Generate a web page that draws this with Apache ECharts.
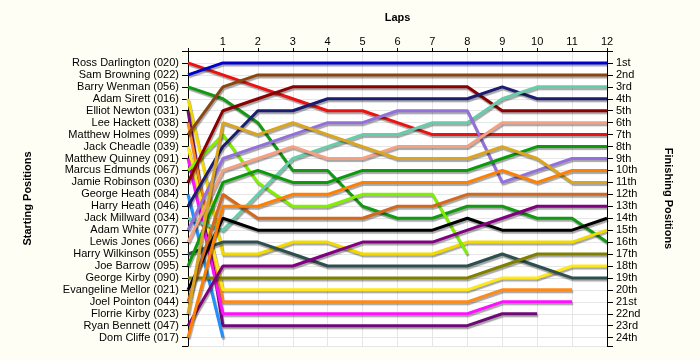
<!DOCTYPE html>
<html><head><meta charset="utf-8">
<script src="https://cdn.jsdelivr.net/npm/echarts@6/dist/echarts.min.js"></script>
<style>html,body{margin:0;padding:0;background:#fffef4}#c{width:700px;height:360px}</style>
</head><body><div id="c"></div>
<script>
// Starting grid (position 1..24)
var startNames = ["Ross Darlington (020)","Sam Browning (022)","Barry Wenman (056)","Adam Sirett (016)","Elliot Newton (031)","Lee Hackett (038)","Matthew Holmes (099)","Jack Cheadle (039)","Matthew Quinney (091)","Marcus Edmunds (067)","Jamie Robinson (030)","George Heath (084)","Harry Heath (046)","Jack Millward (034)","Adam White (077)","Lewis Jones (066)","Harry Wilkinson (055)","Joe Barrow (095)","George Kirby (090)","Evangeline Mellor (021)","Joel Pointon (044)","Florrie Kirby (023)","Ryan Bennett (047)","Dom Cliffe (017)"];
var finishLabels = ["1st","2nd","3rd","4th","5th","6th","7th","8th","9th","10th","11th","12th","13th","14th","15th","16th","17th","18th","19th","20th","21st","22nd","23rd","24th"];
var lapLabels = ["","1","2","3","4","5","6","7","8","9","10","11","12"];

// Position per lap (index = lap 0..12), one array per driver
var posRoss      = [1,2,3,4,5,5,6,7,7,7,7,7,7];
var posSam       = [2,1,1,1,1,1,1,1,1,1,1,1,1];
var posBarry     = [3,4,6,10,10,13,14,14,13,13,14,14,16];
var posAdamS     = [4,17,17,16,16,17,17,17,16,16,16,16,15];
var posElliot    = [5,23,23,23,23,23,23,23,23,22,22];
var posLee       = [6,21,21,21,21,21,21,21,21,20,20,20];
var posMatthewH  = [7,3,2,2,2,2,2,2,2,2,2,2,2];
var posJack      = [8,20,20,20,20,20,20,20,20,19,19,18,18];
var posMatthewQ  = [9,22,22,22,22,22,22,22,22,21,21,21];
var posMarcus    = [10,7,11,13,13,12,12,12,17];
var posJamie     = [11,5,4,3,3,3,3,3,3,5,5,5,5];
var posGeorgeH   = [12,24];
var posHarryH    = [13,8,5,5,4,4,4,4,4,3,4,4,4];
var posJackM     = [14,15,12,9,8,7,7,6,6,4,3,3,3];
var posAdamW     = [15,9,8,7,6,6,5,5,5,11,10,9,9];
var posLewis     = [16,10,9,8,9,9,8,8,8,6,6,6,6];
var posHarryW    = [17,16,16,17,18,18,18,18,18,17,18,19,19];
var posJoe       = [18,11,10,11,11,10,10,10,10,9,8,8,8];
var posGeorgeK   = [19,19,19,19,19,19,19,19,19,18,17,17,17];
var posEvangeline= [20,14,15,15,15,15,15,15,14,15,15,15,14];
var posJoel      = [21,12,14,14,14,14,13,13,12,12,12,12,12];
var posFlorrie   = [22,6,7,6,7,8,9,9,9,8,9,11,11];
var posRyan      = [23,18,18,18,17,16,16,16,15,14,13,13,13];
var posDom       = [24,13,13,12,12,11,11,11,11,10,11,10,10];

var drivers = [
  [posRoss,'#ee1111'],[posSam,'#0000cc'],[posBarry,'#139913'],[posAdamS,'#f2da00'],
  [posElliot,'#6e0a78'],[posLee,'#ff8a1a'],[posMatthewH,'#8b4513'],[posJack,'#ffe81a'],
  [posMatthewQ,'#ff10ff'],[posMarcus,'#80f000'],[posJamie,'#8b0000'],[posGeorgeH,'#2090ff'],
  [posHarryH,'#1c1c70'],[posJackM,'#66cdaa'],[posAdamW,'#9370db'],[posLewis,'#f5a080'],
  [posHarryW,'#2f4f4f'],[posJoe,'#0a9a0a'],[posGeorgeK,'#808000'],[posEvangeline,'#000000'],
  [posJoel,'#d2691e'],[posFlorrie,'#daa520'],[posRyan,'#800080'],[posDom,'#ff7f00']
];

var FONT = "'Liberation Sans', Arial, sans-serif";
var series = drivers.map(function(d){
  return {
    type:'line', yAxisIndex:0, symbol:'none', animation:false,
    data: d[0].map(function(p,lap){return [lap,p];}),
    lineStyle:{color:d[1], width:3, shadowColor:'rgba(0,0,0,0.35)', shadowBlur:1, shadowOffsetX:1, shadowOffsetY:2},
    z:2
  };
});
series.push({type:'line', yAxisIndex:1, data:[], symbol:'none'});

var chart = echarts.init(document.getElementById('c'), null, {renderer:'canvas'});
chart.setOption({
  backgroundColor:'#fffef4',
  animation:false,
  grid:{left:188, right:93, top:51, bottom:14, show:true, backgroundColor:'#ffffff', borderWidth:0},
  xAxis:{
    type:'value', position:'top', min:0, max:12, interval:1,
    name:'Laps', nameLocation:'middle', nameGap:28,
    nameTextStyle:{fontFamily:FONT, fontSize:11, fontWeight:'bold', color:'#000'},
    axisLine:{show:true, lineStyle:{color:'#000', width:1}},
    axisTick:{show:true, length:3, lineStyle:{color:'#000'}},
    axisLabel:{fontFamily:FONT, fontSize:11, color:'#000', margin:4,
      formatter:function(v){return lapLabels[v]||'';}},
    splitLine:{show:true, lineStyle:{color:'#e6e6e6', width:1}}
  },
  yAxis:[{
    type:'value', position:'left', inverse:true, min:0, max:24.7, interval:1,
    name:'Starting Positions', nameLocation:'middle', nameGap:155, nameRotate:90,
    nameTextStyle:{fontFamily:FONT, fontSize:11, fontWeight:'bold', color:'#000'},
    axisLine:{show:true, onZero:false, lineStyle:{color:'#000', width:1}},
    axisTick:{show:true, length:6, lineStyle:{color:'#000'}},
    axisLabel:{fontFamily:FONT, fontSize:11, color:'#000', margin:9,
      formatter:function(v){return (v>=1 && v<=24 && v===Math.round(v)) ? startNames[v-1] : '';}},
    splitLine:{show:true, lineStyle:{color:'#e6e6e6', width:1}}
  },{
    type:'value', position:'right', inverse:true, min:0, max:24.7, interval:1,
    name:'Finishing Positions', nameLocation:'middle', nameGap:56, nameRotate:-90,
    nameTextStyle:{fontFamily:FONT, fontSize:11, fontWeight:'bold', color:'#000'},
    axisLine:{show:true, onZero:false, lineStyle:{color:'#000', width:1}},
    axisTick:{show:true, length:6, lineStyle:{color:'#000'}},
    axisLabel:{fontFamily:FONT, fontSize:11, color:'#000', margin:9,
      formatter:function(v){return (v>=1 && v<=24 && v===Math.round(v)) ? finishLabels[v-1] : '';}},
    splitLine:{show:false}
  }],
  series:series
});
</script></body></html>
